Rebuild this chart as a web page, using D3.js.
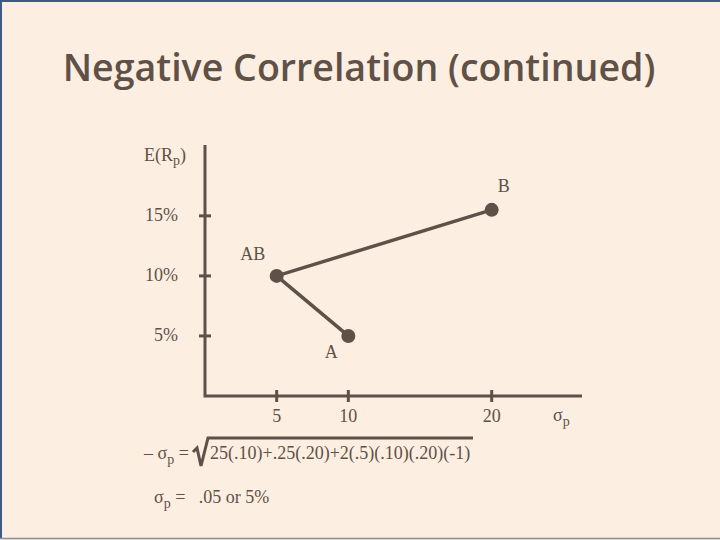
<!DOCTYPE html>
<html>
<head>
<meta charset="utf-8">
<script src="https://cdn.jsdelivr.net/npm/d3@7"></script>
<style>
  body { margin: 0; background: #fdeee2; }
  svg { display: block; }
</style>
</head>
<body>
<script>
let x = 720;
let y = 540;

// portfolio points: sigma (x) and expected return (y)
let pointNames = ["A", "AB", "B"];
let sigmas = [10, 5, 20];
let returns = [5, 10, 15.5];

let yTicks = [5, 10, 15];
let yTickLabels = ["5%", "10%", "15%"];
let xTicks = [5, 10, 20];
let xTickLabels = ["5", "10", "20"];

let ink = "#5f5147";
let serif = "'Liberation Serif', 'Times New Roman', serif";
let fs = 18;

let svg = d3.select("body")
  .append("svg")
  .attr("width", x)
  .attr("height", y);

svg.append("rect")
  .attr("width", x).attr("height", y)
  .attr("fill", "#fdeee2");

// slide frame
svg.append("line").attr("x1", 1).attr("x2", 1).attr("y1", 0).attr("y2", 538)
  .attr("stroke", "#3d5a87").attr("stroke-width", 2);
svg.append("line").attr("x1", 0).attr("x2", 720).attr("y1", 1).attr("y2", 1)
  .attr("stroke", "#3d5a87").attr("stroke-width", 2);
svg.append("line").attr("x1", 0).attr("x2", 720).attr("y1", 538.5).attr("y2", 538.5)
  .attr("stroke", "#8a8f9c").attr("stroke-width", 1.5);

// title
let title = svg.append("text")
  .text("Negative Correlation (continued)")
  .attr("x", 359)
  .attr("y", 81)
  .attr("text-anchor", "middle")
  .attr("font-family", "'Open Sans', sans-serif")
  .attr("font-weight", 600)
  .attr("font-size", 40)
  .attr("fill", ink);
let tw = title.node().getComputedTextLength();
title.attr("font-size", 40 * 593 / tw);

let xScale = d3.scaleLinear().domain([0, 26.3]).range([205, 582]);
let yScale = d3.scaleLinear().domain([0, 20.9]).range([396, 145]);

// axes
svg.append("path")
  .attr("d", "M" + xScale(0) + "," + yScale(20.9) + "V" + yScale(0) + "H" + xScale(26.3))
  .attr("fill", "none")
  .attr("stroke", ink)
  .attr("stroke-width", 3);

svg.selectAll(".ytick")
  .data(yTicks)
  .enter()
  .append("line")
  .attr("x1", xScale(0) - 6)
  .attr("x2", xScale(0) + 6)
  .attr("y1", d => yScale(d))
  .attr("y2", d => yScale(d))
  .attr("stroke", ink)
  .attr("stroke-width", 3);

svg.selectAll(".xtick")
  .data(xTicks)
  .enter()
  .append("line")
  .attr("x1", d => xScale(d))
  .attr("x2", d => xScale(d))
  .attr("y1", yScale(0) - 6)
  .attr("y2", yScale(0) + 6)
  .attr("stroke", ink)
  .attr("stroke-width", 3);

svg.selectAll(".ylab")
  .data(yTicks)
  .enter()
  .append("text")
  .text((d, i) => yTickLabels[i])
  .attr("x", 178)
  .attr("y", d => yScale(d) + 5)
  .attr("text-anchor", "end")
  .attr("font-family", serif)
  .attr("font-size", fs)
  .attr("fill", ink);

svg.selectAll(".xlab")
  .data(xTicks)
  .enter()
  .append("text")
  .text((d, i) => xTickLabels[i])
  .attr("x", d => xScale(d))
  .attr("y", 422)
  .attr("text-anchor", "middle")
  .attr("font-family", serif)
  .attr("font-size", fs)
  .attr("fill", ink);

// axis titles
let eLab = svg.append("text")
  .attr("x", 144).attr("y", 161)
  .attr("font-family", serif).attr("font-size", fs).attr("fill", ink);
eLab.append("tspan").text("E(R");
eLab.append("tspan").text("p").attr("dy", 4).attr("font-size", 14);
eLab.append("tspan").text(")").attr("dy", -4);

let sLab = svg.append("text")
  .attr("x", 553).attr("y", 421)
  .attr("font-family", serif).attr("font-size", fs).attr("fill", ink);
sLab.append("tspan").text("σ");
sLab.append("tspan").text("p").attr("dy", 5).attr("font-size", 14);

// frontier lines: B -> AB -> A
let order = [2, 1, 0];
let line = d3.line()
  .x(i => xScale(sigmas[i]))
  .y(i => yScale(returns[i]));
svg.append("path")
  .attr("d", line(order))
  .attr("fill", "none")
  .attr("stroke", ink)
  .attr("stroke-width", 3.5);

svg.selectAll(".dot")
  .data(pointNames)
  .enter()
  .append("circle")
  .attr("cx", (d, i) => xScale(sigmas[i]))
  .attr("cy", (d, i) => yScale(returns[i]))
  .attr("r", 7)
  .attr("fill", ink);

let labelDx = [-17, -24, 12];
let labelDy = [22, -16, -18];
svg.selectAll(".plab")
  .data(pointNames)
  .enter()
  .append("text")
  .text(d => d)
  .attr("x", (d, i) => xScale(sigmas[i]) + labelDx[i])
  .attr("y", (d, i) => yScale(returns[i]) + labelDy[i])
  .attr("text-anchor", "middle")
  .attr("font-family", serif)
  .attr("font-size", fs)
  .attr("fill", ink);

// formula
let f1 = svg.append("text")
  .attr("x", 144).attr("y", 459)
  .attr("font-family", serif).attr("font-size", fs).attr("fill", ink);
f1.append("tspan").text("– σ");
f1.append("tspan").text("p").attr("dy", 5).attr("font-size", 14);
f1.append("tspan").text(" =").attr("dy", -5);

svg.append("path")
  .attr("d", "M193,452 L197,448 L201,466 L208,438 H473")
  .attr("fill", "none")
  .attr("stroke", ink)
  .attr("stroke-width", 3);

svg.append("text")
  .text("25(.10)+.25(.20)+2(.5)(.10)(.20)(-1)")
  .attr("x", 210).attr("y", 459)
  .attr("font-family", serif).attr("font-size", fs).attr("fill", ink);

let f2 = svg.append("text")
  .attr("x", 154).attr("y", 503)
  .attr("font-family", serif).attr("font-size", fs).attr("fill", ink);
f2.append("tspan").text("σ");
f2.append("tspan").text("p").attr("dy", 5).attr("font-size", 14);
f2.append("tspan").text(" =   .05 or 5%").attr("dy", -5).attr("xml:space", "preserve");
</script>
</body>
</html>
